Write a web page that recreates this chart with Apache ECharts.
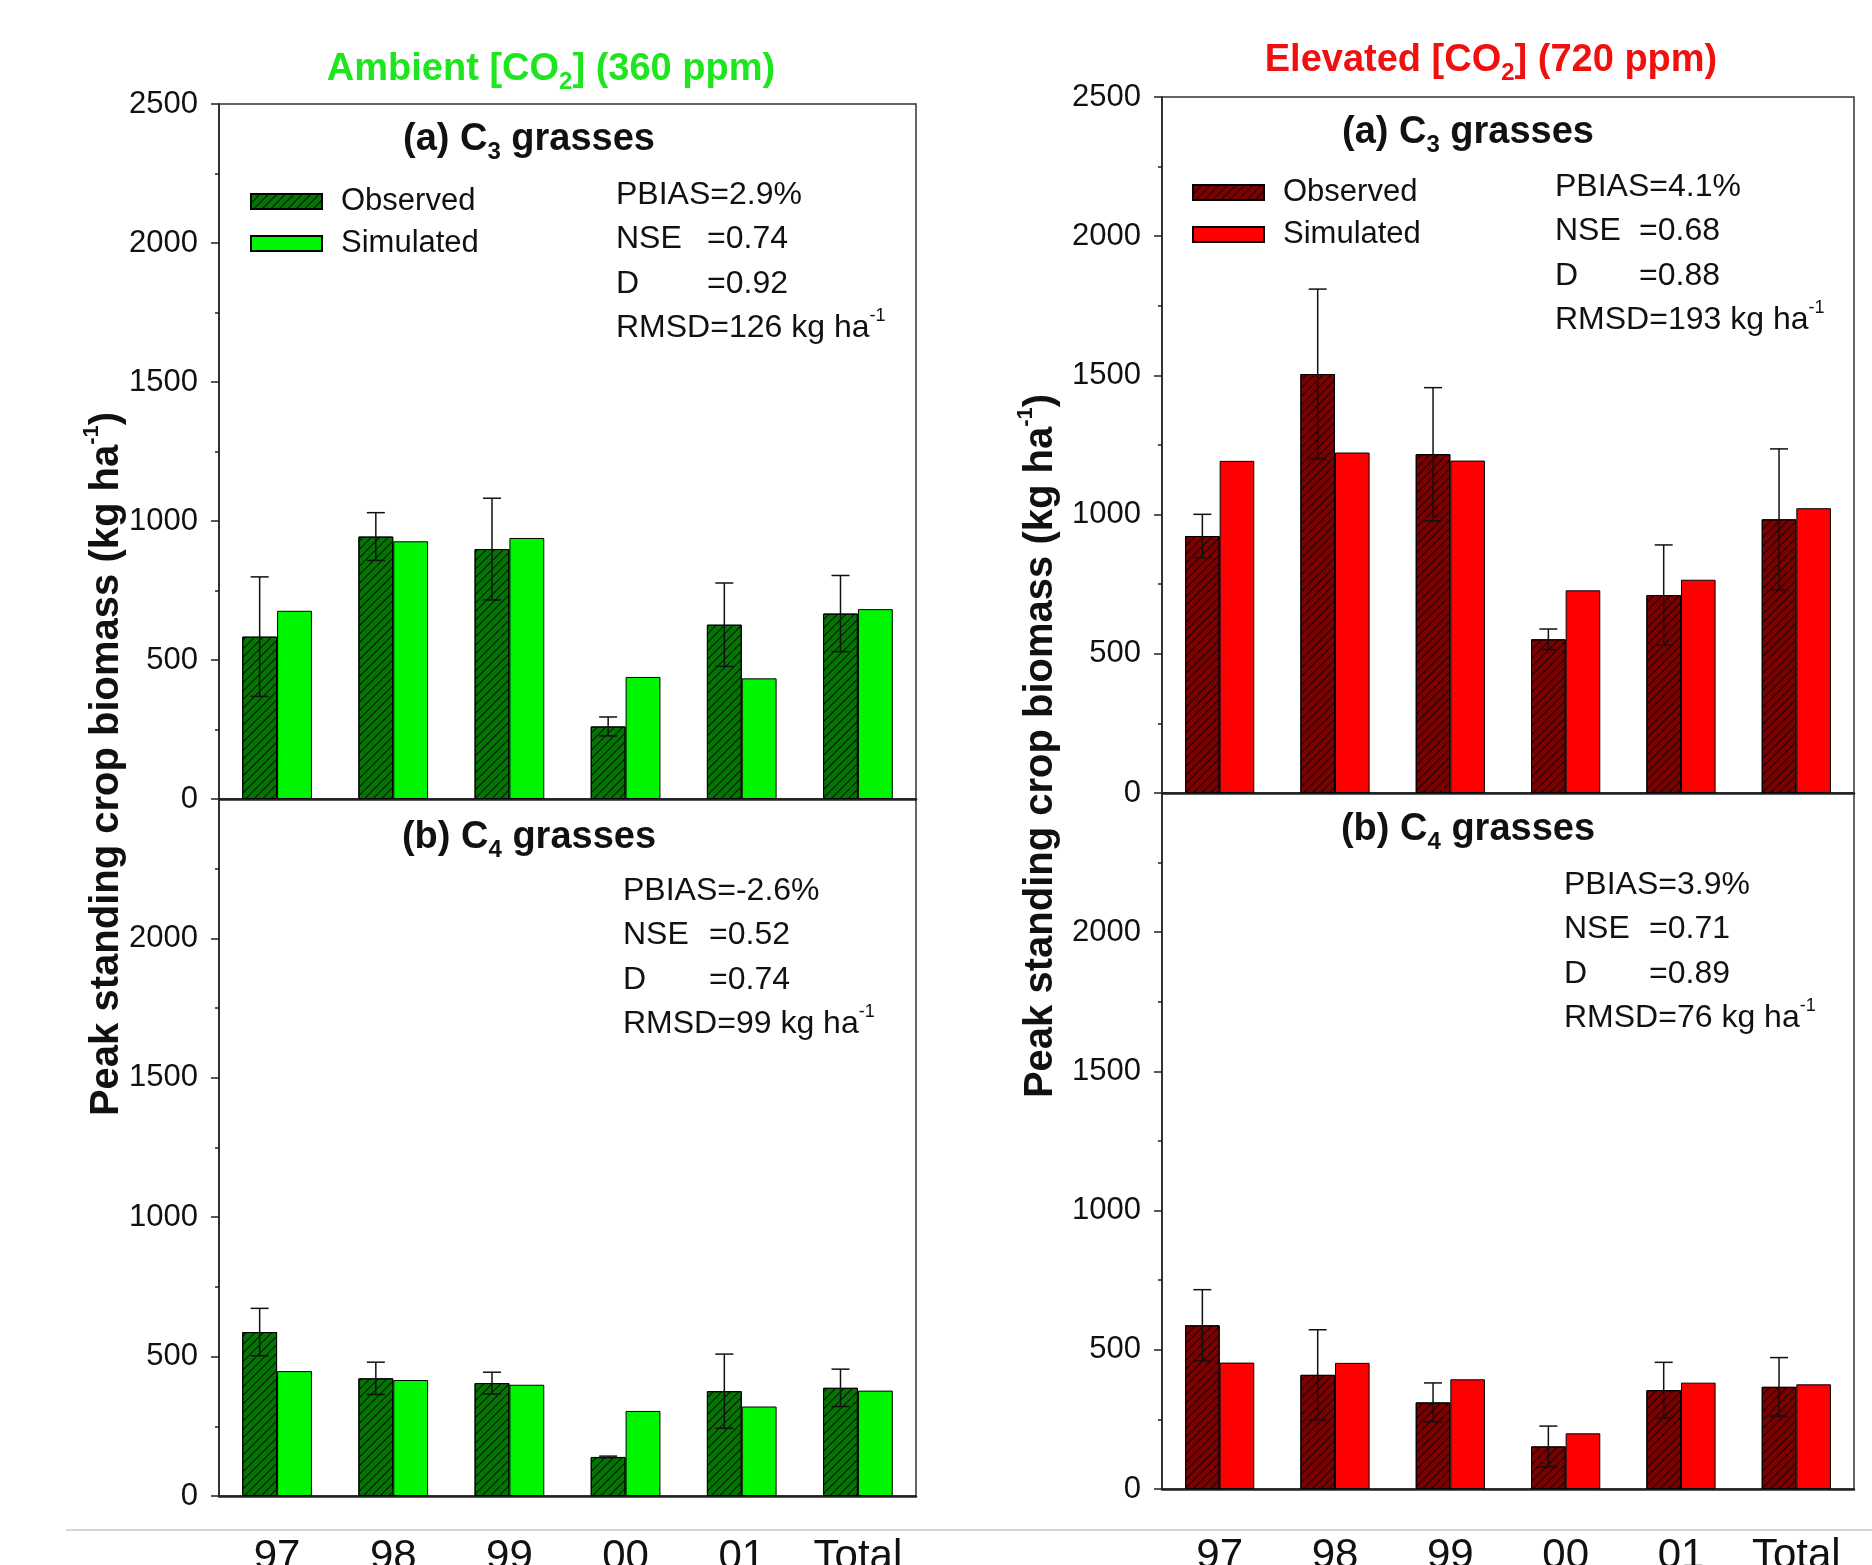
<!DOCTYPE html>
<html>
<head>
<meta charset="utf-8">
<script src="https://cdn.jsdelivr.net/npm/echarts@6/dist/echarts.min.js"></script>
<style>
html,body{margin:0;padding:0;background:#fff;}
#main{width:1872px;height:1565px;}
</style>
</head>
<body>
<div id="main"></div>
<script>
// categories / ticks
var years = ['97', '98', '99', '00', '01', 'Total'];
var yMin = 0, yMax = 2500, yStep = 500;

// Ambient [CO2], C3 grasses
var ambC3Obs = [584, 944, 899, 261, 627, 667];
var ambC3Err = [215, 86, 183, 34, 150, 137];
var ambC3Sim = [677, 927, 939, 439, 434, 683];
// Ambient [CO2], C4 grasses
var ambC4Obs = [588, 422, 405, 140, 376, 388];
var ambC4Err = [85, 58, 39, 3, 133, 67];
var ambC4Sim = [448, 416, 399, 305, 321, 378];
// Elevated [CO2], C3 grasses
var elvC3Obs = [923, 1505, 1217, 552, 711, 983];
var elvC3Err = [78, 305, 239, 37, 180, 253];
var elvC3Sim = [1193, 1223, 1194, 728, 766, 1023];
// Elevated [CO2], C4 grasses
var elvC4Obs = [588, 410, 311, 153, 355, 367];
var elvC4Err = [128, 162, 70, 73, 100, 105];
var elvC4Sim = [454, 453, 394, 200, 382, 376];

var FONT = '"Liberation Sans", Arial, sans-serif';
var GREEN_D = '#047404', GREEN = '#00f500';
var RED_D = '#7c0000', RED = '#ff0000';

var chart = echarts.init(document.getElementById('main'));

function hatch() {
    return {symbol: 'rect', symbolSize: 1, dashArrayX: [1, 0], dashArrayY: [1, 5],
        rotation: -Math.PI / 4, color: 'rgba(0,0,0,0.85)'};
}

var grids = [
    {left: 219, top: 104, width: 697, height: 695},   // ambient C3
    {left: 219, top: 799, width: 697, height: 697},   // ambient C4
    {left: 1162, top: 97, width: 692, height: 696},   // elevated C3
    {left: 1162, top: 793, width: 692, height: 696}   // elevated C4
];
grids.forEach(function (g) {
    g.show = true; g.borderColor = '#333'; g.borderWidth = 1.5;
    g.containLabel = false; g.outerBoundsMode = 'none';
});

var xAxes = [], yAxes = [];
grids.forEach(function (g, i) {
    var bottom = (i % 2 === 1);
    xAxes.push({
        type: 'category', gridIndex: i, data: years,
        axisLine: {lineStyle: {color: '#222', width: 2.5}},
        axisTick: {alignWithLabel: true, length: 10, lineStyle: {color: '#222', width: 1.5}},
        axisLabel: {show: bottom, interval: 0, margin: i === 3 ? 46 : 40, fontSize: 42, color: '#111', fontFamily: FONT}
    });
    yAxes.push({
        type: 'value', gridIndex: i, min: yMin, max: yMax, interval: yStep,
        axisLine: {show: true, lineStyle: {color: '#222', width: 1.5}},
        axisTick: {show: true, length: 8, lineStyle: {color: '#222', width: 1.5}},
        minorTick: {show: true, splitNumber: 2, length: 4, lineStyle: {color: '#222', width: 1.5}},
        splitLine: {show: false},
        axisLabel: {margin: 21, fontSize: 31, color: '#111', fontFamily: FONT, showMaxLabel: !bottom,
            formatter: function (v) { return String(v); }}
    });
});

function errSeries(idx, obs, err) {
    return {
        type: 'custom', xAxisIndex: idx, yAxisIndex: idx, z: 5, silent: true,
        data: years.map(function (c, i) { return [i, obs[i], err[i]]; }),
        encode: {x: 0, y: 1},
        renderItem: function (params, api) {
            var i = api.value(0), v = api.value(1), e = api.value(2);
            var catW = api.size([1, 0])[0];
            var cx = api.coord([i, v])[0] - catW * 0.15;
            var yt = api.coord([i, v + e])[1], yb = api.coord([i, v - e])[1];
            var st = {stroke: '#111', lineWidth: 1.5};
            return {type: 'group', children: [
                {type: 'line', shape: {x1: cx, y1: yt, x2: cx, y2: yb}, style: st},
                {type: 'line', shape: {x1: cx - 9, y1: yt, x2: cx + 9, y2: yt}, style: st},
                {type: 'line', shape: {x1: cx - 9, y1: yb, x2: cx + 9, y2: yb}, style: st}
            ]};
        }
    };
}

function barPair(idx, tag, obs, sim, dark, bright) {
    return [
        {name: 'Observed|' + tag, type: 'bar', xAxisIndex: idx, yAxisIndex: idx, data: obs,
            barGap: '0%', barCategoryGap: '40%',
            itemStyle: {color: dark, borderColor: '#000', borderWidth: 1, decal: hatch()}},
        {name: 'Simulated|' + tag, type: 'bar', xAxisIndex: idx, yAxisIndex: idx, data: sim,
            barGap: '0%', barCategoryGap: '40%',
            itemStyle: {color: bright, borderColor: '#000', borderWidth: 1}}
    ];
}

var series = [].concat(
    barPair(0, 'amb', ambC3Obs, ambC3Sim, GREEN_D, GREEN), [errSeries(0, ambC3Obs, ambC3Err)],
    barPair(1, 'amb', ambC4Obs, ambC4Sim, GREEN_D, GREEN), [errSeries(1, ambC4Obs, ambC4Err)],
    barPair(2, 'elv', elvC3Obs, elvC3Sim, RED_D, RED), [errSeries(2, elvC3Obs, elvC3Err)],
    barPair(3, 'elv', elvC4Obs, elvC4Sim, RED_D, RED), [errSeries(3, elvC4Obs, elvC4Err)]
);

function legendAt(tag, left, top) {
    return {
        data: ['Observed|' + tag, 'Simulated|' + tag], orient: 'vertical', left: left, top: top,
        icon: 'rect', itemWidth: 71, itemHeight: 15, itemGap: 11, selectedMode: false,
        formatter: function (n) { return n.split('|')[0]; },
        textStyle: {fontSize: 31, fontFamily: FONT, color: '#111', padding: [0, 0, 0, 14]}
    };
}

// rich text styles
function rich(size, bold, color) {
    var w = bold ? 'bold' : 'normal';
    var lh = Math.round(size * 1.3);
    return {
        m: {fontSize: size, fontWeight: w, fontFamily: FONT, fill: color, verticalAlign: 'middle', lineHeight: lh},
        s: {fontSize: Math.round(size * 0.62), fontWeight: w, fontFamily: FONT, fill: color, verticalAlign: 'bottom', lineHeight: lh},
        p: {fontSize: Math.round(size * 0.55), fontWeight: w, fontFamily: FONT, fill: color, verticalAlign: 'top', lineHeight: lh}
    };
}
function txt(x, y, text, size, bold, color, align, rot) {
    return {
        type: 'text', x: x, y: y, rotation: rot || 0, z: 10,
        style: {text: text, rich: rich(size, bold, color), fill: color,
            textAlign: align || 'left', textVerticalAlign: 'middle'}
    };
}
var SF = 32;
function stats(x, xe, y0, dy, pb, nse, d, rmsd) {
    return [
        txt(x, y0, '{m|PBIAS=' + pb + '}', SF, false, '#111'),
        txt(x, y0 + dy, '{m|NSE}', SF, false, '#111'),
        txt(xe, y0 + dy, '{m|=' + nse + '}', SF, false, '#111'),
        txt(x, y0 + 2 * dy, '{m|D}', SF, false, '#111'),
        txt(xe, y0 + 2 * dy, '{m|=' + d + '}', SF, false, '#111'),
        txt(x, y0 + 3 * dy, '{m|RMSD=' + rmsd + ' kg ha}{p|-1}', SF, false, '#111')
    ];
}

var yName = '{m|Peak standing crop biomass (kg ha}{p|-1}{m|)}';

var graphic = [].concat(
    [
        txt(551, 70, '{m|Ambient [CO}{s|2}{m|] (360 ppm)}', 38, true, '#1ee61e', 'center'),
        txt(1491, 61, '{m|Elevated [CO}{s|2}{m|] (720 ppm)}', 38, true, '#f01010', 'center'),
        txt(529, 140, '{m|(a) C}{s|3}{m| grasses}', 38, true, '#111', 'center'),
        txt(1468, 133, '{m|(a) C}{s|3}{m| grasses}', 38, true, '#111', 'center'),
        txt(529, 838, '{m|(b) C}{s|4}{m| grasses}', 38, true, '#111', 'center'),
        txt(1468, 830, '{m|(b) C}{s|4}{m| grasses}', 38, true, '#111', 'center'),
        txt(107, 764, yName, 40, true, '#111', 'center', Math.PI / 2),
        txt(1041, 746, yName, 40, true, '#111', 'center', Math.PI / 2),
        {type: 'line', z: 10, shape: {x1: 66, y1: 1530, x2: 1872, y2: 1530}, style: {stroke: '#c8c8c8', lineWidth: 1.5}}
    ],
    stats(616, 707, 195, 44.5, '2.9%', '0.74', '0.92', '126'),
    stats(1555, 1639, 187, 44.5, '4.1%', '0.68', '0.88', '193'),
    stats(623, 709, 891, 44.5, '-2.6%', '0.52', '0.74', '99'),
    stats(1564, 1649, 885, 44.5, '3.9%', '0.71', '0.89', '76')
);

chart.setOption({
    animation: false,
    backgroundColor: '#fff',
    textStyle: {fontFamily: FONT},
    grid: grids,
    xAxis: xAxes,
    yAxis: yAxes,
    legend: [legendAt('amb', 245, 181), legendAt('elv', 1187, 172)],
    graphic: graphic,
    series: series
});
</script>
</body>
</html>
